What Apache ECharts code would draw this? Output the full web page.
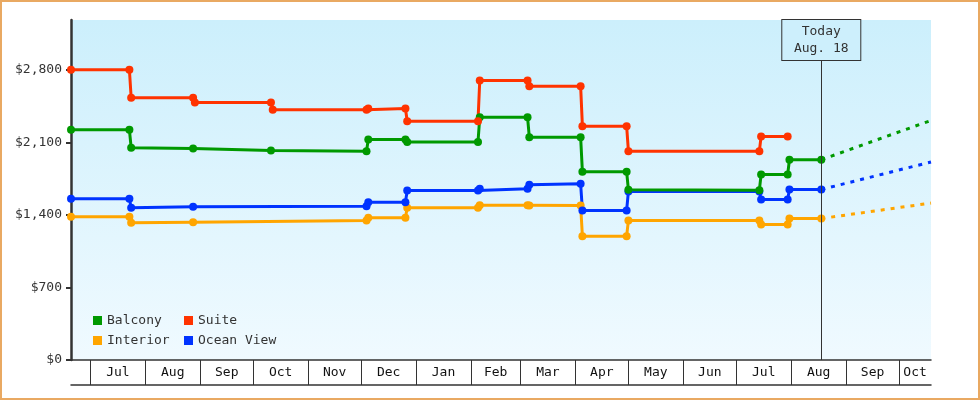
<!DOCTYPE html>
<html>
<head>
<meta charset="utf-8">
<script src="https://cdn.jsdelivr.net/npm/echarts@6/dist/echarts.min.js"></script>
<style>
  html, body { margin: 0; padding: 0; background: #fff; }
  #wrap { position: relative; width: 980px; height: 400px; }
  #chart { width: 980px; height: 400px; }
  #frame { position: absolute; left: 0; top: 0; width: 980px; height: 400px; box-sizing: border-box; border: 2px solid #e9a962; pointer-events: none; }
</style>
</head>
<body>
<div id="wrap"><div id="chart"></div><div id="frame"></div></div>
<script>
// ---- data ----
const axisStart = '2022-06-20';
const axisEnd = '2023-10-19';
const today = '2023-08-18';
const todayLabel = 'Today\nAug. 18';

const monthStarts = ['2022-07-01','2022-08-01','2022-09-01','2022-10-01','2022-11-01','2022-12-01',
  '2023-01-01','2023-02-01','2023-03-01','2023-04-01','2023-05-01','2023-06-01','2023-07-01',
  '2023-08-01','2023-09-01','2023-10-01'];
const monthLabels = ['Jul','Aug','Sep','Oct','Nov','Dec','Jan','Feb','Mar','Apr','May','Jun','Jul','Aug','Sep','Oct'];

const yTicks = [0, 700, 1400, 2100, 2800];
const yMax = 3280;

const balcony = [
  ['2022-06-20',2221],['2022-07-23',2221],['2022-07-24',2048],['2022-08-28',2040],['2022-10-11',2021],
  ['2022-12-04',2015],['2022-12-05',2128],['2022-12-26',2128],['2022-12-27',2102],['2023-02-05',2102],
  ['2023-02-06',2343],['2023-03-05',2343],['2023-03-06',2150],['2023-04-04',2150],['2023-04-05',1816],
  ['2023-04-30',1816],['2023-05-01',1642],['2023-07-14',1638],['2023-07-15',1790],['2023-07-30',1790],
  ['2023-07-31',1932],['2023-08-18',1932]
];
const suite = [
  ['2022-06-20',2800],['2022-07-23',2800],['2022-07-24',2530],['2022-08-28',2530],['2022-08-29',2485],
  ['2022-10-11',2485],['2022-10-12',2414],['2022-12-04',2414],['2022-12-05',2426],['2022-12-26',2426],
  ['2022-12-27',2304],['2023-02-05',2304],['2023-02-06',2697],['2023-03-05',2697],['2023-03-06',2642],
  ['2023-04-04',2642],['2023-04-05',2256],['2023-04-30',2256],['2023-05-01',2015],['2023-07-14',2015],
  ['2023-07-15',2157],['2023-07-30',2157]
];
const interior = [
  ['2022-06-20',1382],['2022-07-23',1382],['2022-07-24',1324],['2022-08-28',1330],['2022-12-04',1346],
  ['2022-12-05',1372],['2022-12-26',1372],['2022-12-27',1469],['2023-02-05',1469],['2023-02-06',1494],
  ['2023-03-05',1494],['2023-03-06',1491],['2023-04-04',1491],['2023-04-05',1195],['2023-04-30',1195],
  ['2023-05-01',1346],['2023-07-14',1346],['2023-07-15',1307],['2023-07-30',1307],['2023-07-31',1365],
  ['2023-08-18',1365]
];
const oceanView = [
  ['2022-06-20',1555],['2022-07-23',1555],['2022-07-24',1469],['2022-08-28',1478],['2022-12-04',1484],
  ['2022-12-05',1523],['2022-12-26',1523],['2022-12-27',1636],['2023-02-05',1636],['2023-02-06',1652],
  ['2023-03-05',1652],['2023-03-06',1690],['2023-04-04',1700],['2023-04-05',1443],['2023-04-30',1443],
  ['2023-05-01',1626],['2023-07-14',1626],['2023-07-15',1549],['2023-07-30',1549],['2023-07-31',1645],
  ['2023-08-18',1645]
];
const balconyForecast = [['2023-08-18',1932],['2023-10-19',2311]];
const interiorForecast = [['2023-08-18',1365],['2023-10-19',1514]];
const oceanViewForecast = [['2023-08-18',1645],['2023-10-19',1910]];

// ---- helpers ----
function ts(s) { const p = s.split('-').map(Number); return Date.UTC(p[0], p[1] - 1, p[2]); }
function conv(arr) { return arr.map(d => [ts(d[0]), d[1]]); }

const tickTs = monthStarts.map(ts);
const labelTs = tickTs.map((t, i) => {
  const next = i + 1 < tickTs.length ? tickTs[i + 1] : ts(axisEnd);
  return (t + next) / 2;
});
function monthName(v) {
  let best = 0, bd = Infinity;
  labelTs.forEach((t, i) => { const d = Math.abs(t - v); if (d < bd) { bd = d; best = i; } });
  return monthLabels[best];
}

const FONT = 'DejaVu Sans Mono';
const TXT = '#333';
const C = { Balcony: '#009900', Suite: '#ff3300', Interior: '#ffa500', 'Ocean View': '#0033ff' };

function mainSeries(name, data, extra) {
  return Object.assign({
    name: name, type: 'line', data: conv(data),
    symbol: 'circle', symbolSize: 8, showSymbol: true,
    lineStyle: { width: 3, color: C[name] }, itemStyle: { color: C[name] },
    emphasis: { disabled: true }, animation: false
  }, extra || {});
}
function forecastSeries(name, data) {
  return {
    name: name + ' forecast', type: 'line', data: conv(data),
    showSymbol: false, symbol: 'none',
    lineStyle: { width: 3, color: C[name], type: [4, 6] },
    itemStyle: { color: C[name] },
    emphasis: { disabled: true }, animation: false, silent: true
  };
}

const chart = echarts.init(document.getElementById('chart'), null, { renderer: 'canvas' });
const legendText = { fontFamily: FONT, fontSize: 13, color: TXT };

chart.setOption({
  animation: false,
  textStyle: { fontFamily: FONT },
  grid: {
    left: 71, right: 49, top: 20, bottom: 40, show: true, borderWidth: 0,
    backgroundColor: { type: 'linear', x: 0, y: 0, x2: 0, y2: 1,
      colorStops: [{ offset: 0, color: '#cceffc' }, { offset: 1, color: '#f0faff' }] }
  },
  legend: [
    { data: ['Balcony', 'Interior'], orient: 'vertical', left: 93, top: 314, padding: 0,
      itemWidth: 9, itemHeight: 9, itemGap: 7, icon: 'rect', textStyle: legendText, selectedMode: false },
    { data: ['Suite', 'Ocean View'], orient: 'vertical', left: 184, top: 314, padding: 0,
      itemWidth: 9, itemHeight: 9, itemGap: 7, icon: 'rect', textStyle: legendText, selectedMode: false }
  ],
  xAxis: [
    {
      type: 'value', min: ts(axisStart), max: ts(axisEnd),
      axisLine: { show: true, lineStyle: { color: TXT, width: 1.5 } },
      axisTick: { show: true, length: 25, customValues: tickTs, lineStyle: { color: TXT, width: 1 } },
      axisLabel: { show: true, customValues: labelTs, formatter: v => monthName(v), margin: 6,
        fontFamily: FONT, fontSize: 13, color: '#111', hideOverlap: false },
      splitLine: { show: false }
    },
    {
      type: 'value', min: ts(axisStart), max: ts(axisEnd), position: 'bottom', offset: 25,
      axisLine: { show: true, lineStyle: { color: TXT, width: 1.5 } },
      axisTick: { show: false }, axisLabel: { show: false }, splitLine: { show: false }
    }
  ],
  yAxis: {
    type: 'value', min: 0, max: yMax,
    axisLine: { show: true, lineStyle: { color: TXT, width: 2.5 } },
    axisTick: { show: true, length: 5, customValues: yTicks, lineStyle: { color: TXT, width: 2 } },
    axisLabel: { customValues: yTicks, margin: 9, fontFamily: FONT, fontSize: 13, color: TXT,
      formatter: v => '$' + Number(v).toLocaleString('en-US') },
    splitLine: { show: false }
  },
  series: [
    forecastSeries('Interior', interiorForecast),
    forecastSeries('Ocean View', oceanViewForecast),
    forecastSeries('Balcony', balconyForecast),
    mainSeries('Interior', interior),
    mainSeries('Ocean View', oceanView),
    mainSeries('Balcony', balcony, {
      markLine: {
        silent: true, symbol: ['none', 'none'], animation: false,
        lineStyle: { color: TXT, width: 1, type: 'solid' },
        emphasis: { disabled: true },
        label: {
          show: true, position: 'start', distance: -40, formatter: todayLabel,
          fontFamily: FONT, fontSize: 13, color: TXT, lineHeight: 17, align: 'center',
          backgroundColor: '#cdeffc', borderColor: TXT, borderWidth: 1,
          width: 78, padding: [3, 0, 3, 0]
        },
        data: [[{ coord: [ts(today), yMax] }, { coord: [ts(today), 0] }]]
      }
    }),
    mainSeries('Suite', suite)
  ]
});
</script>
</body>
</html>
